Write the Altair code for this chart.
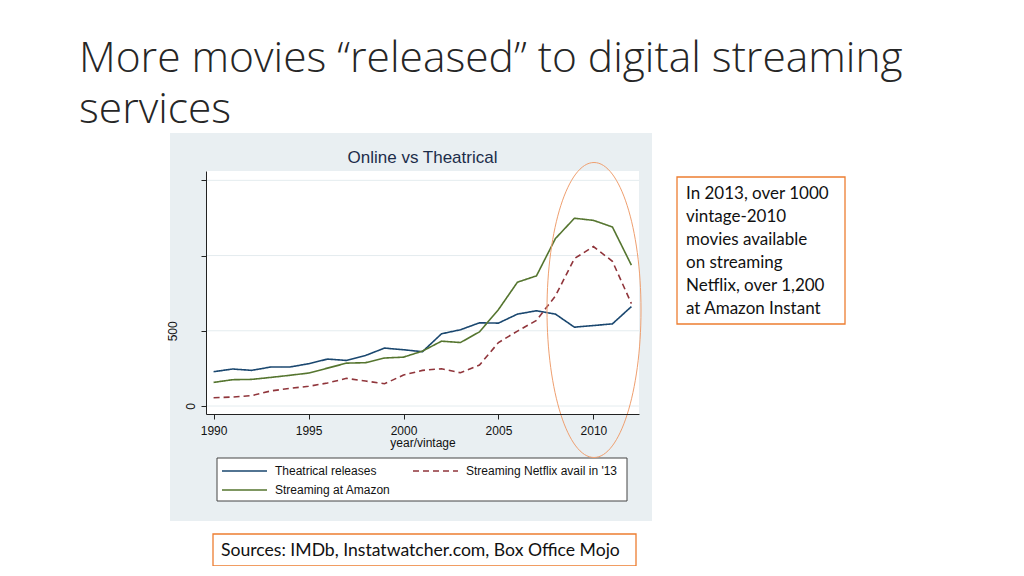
import altair as alt
import pandas as pd

# ---------------- data ----------------
years = list(range(1990, 2013))
theatrical = [228, 246, 237, 259, 259, 281, 312, 303, 336, 385, 374, 361,
              480, 507, 553, 551, 611, 633, 611, 524, 535, 546, 661]
netflix = [55, 60, 69, 100, 117, 131, 153, 184, 166, 148, 206, 237,
           248, 221, 272, 422, 498, 569, 732, 980, 1060, 962, 681]
amazon = [157, 175, 177, 190, 204, 219, 252, 285, 288, 319, 325, 365,
          431, 422, 493, 641, 823, 865, 1113, 1248, 1234, 1190, 936]

series_names = ["Theatrical releases", "Streaming Netflix avail in '13", "Streaming at Amazon"]
series_colors = ["#1a476f", "#90353b", "#55752f"]
series_dash = [[1, 0], [6, 4], [1, 0]]

y_ticks = [0, 500, 1000, 1500]
x_ticks = [1990, 1995, 2000, 2005, 2010]

slide_title = ["More movies \u201creleased\u201d to digital streaming", "services"]
chart_title = "Online vs Theatrical"
x_title = "year/vintage"
note_lines = ["In 2013, over 1000", "vintage-2010", "movies available",
              "on streaming", "Netflix, over 1,200", "at Amazon Instant"]
sources = "Sources: IMDb, Instatwatcher.com, Box Office Mojo"

rows = []
for name, vals in zip(series_names, [theatrical, netflix, amazon]):
    for yr, v in zip(years, vals):
        rows.append({"year": yr, "value": v, "series": name})
df = pd.DataFrame(rows)
grid_df = pd.DataFrame({"value": y_ticks})
one = pd.DataFrame({"k": [0]})

W, H = 433, 243
STATA_FONT = "Liberation Sans"
SLIDE_FONT = "Lato"

xscale = alt.Scale(domain=[1989.6, 2012.4], nice=False, zero=False)
yscale = alt.Scale(domain=[-53, 1562], nice=False, zero=False)

# ---------------- background panels ----------------
panel = alt.Chart(one).mark_rect(color="#e9eff2").encode(
    x=alt.value(-36), x2=alt.value(446), y=alt.value(-38), y2=alt.value(350))
plot_bg = alt.Chart(one).mark_rect(color="white").encode(
    x=alt.value(0), x2=alt.value(W), y=alt.value(0), y2=alt.value(H))

grid = alt.Chart(grid_df).mark_rule(color="#e4ecef", strokeWidth=1).encode(
    y=alt.Y("value:Q", scale=yscale))

lines = alt.Chart(df).mark_line(strokeWidth=1.6).encode(
    x=alt.X("year:Q", scale=xscale,
            axis=alt.Axis(values=x_ticks, format="d", title=x_title, grid=False,
                          tickSize=5, labelPadding=6, titlePadding=1, zindex=2)),
    y=alt.Y("value:Q", scale=yscale,
            axis=alt.Axis(values=y_ticks, title=None, grid=False, tickSize=5, zindex=2,
                          labelAngle=-90, labelAlign="center", labelBaseline="bottom",
                          labelExpr="datum.value <= 500 ? datum.label : ''",
                          labelPadding={"condition": {"test": "datum.value == 500", "value": 22},
                                        "value": 4})),
    color=alt.Color("series:N", scale=alt.Scale(domain=series_names, range=series_colors),
                    legend=None),
    strokeDash=alt.StrokeDash("series:N", scale=alt.Scale(domain=series_names, range=series_dash),
                              legend=None),
    detail="series:N",
)

title_mark = alt.Chart(one).mark_text(
    text=chart_title, font=STATA_FONT, fontSize=17, color="#1c2d4a",
    align="center", baseline="middle").encode(x=alt.value(W / 2), y=alt.value(-13))

# ---------------- legend (Stata style box) ----------------
legend_box = alt.Chart(one).mark_rect(fill="white", stroke="#444444", strokeWidth=1).encode(
    x=alt.value(11), x2=alt.value(421), y=alt.value(287), y2=alt.value(330))
leg_pos = [(16, 300), (207, 300), (16, 319)]
legend_layers = [legend_box]
for (lx, ly), name, col, dash in zip(leg_pos, series_names, series_colors, series_dash):
    legend_layers.append(
        alt.Chart(one).mark_rule(color=col, strokeWidth=1.5, strokeDash=dash).encode(
            x=alt.value(lx), x2=alt.value(lx + 45), y=alt.value(ly)))
    legend_layers.append(
        alt.Chart(one).mark_text(text=name, font=STATA_FONT, fontSize=12, color="#111111",
                                 align="left", baseline="middle").encode(
            x=alt.value(lx + 53), y=alt.value(ly)))

# ---------------- ellipse highlight ----------------
rx = 47 / 147.5
ell_path = f"M {-rx},0 A {rx} 1 0 1 0 {rx} 0 A {rx} 1 0 1 0 {-rx} 0 Z"
ellipse = alt.Chart(one).mark_point(
    shape=ell_path, size=295 * 295, filled=False, stroke="#ef9f6f", strokeWidth=1,
    opacity=1).encode(x=alt.value(388), y=alt.value(139))

# ---------------- slide texts ----------------
slide_title_mark = alt.Chart(one).mark_text(
    text=slide_title, font="Open Sans", fontWeight=300, fontSize=42.5, color="#262626",
    align="left", baseline="alphabetic", lineHeight=51).encode(
    x=alt.value(-127), y=alt.value(-99))

note_box = alt.Chart(one).mark_rect(fill="white", stroke="#ed7d31", strokeWidth=1.3).encode(
    x=alt.value(471), x2=alt.value(639), y=alt.value(6), y2=alt.value(153))
note_text = alt.Chart(one).mark_text(
    text=note_lines, font=SLIDE_FONT, fontSize=17, color="#111111",
    align="left", baseline="alphabetic", lineHeight=23).encode(
    x=alt.value(480), y=alt.value(28))

src_box = alt.Chart(one).mark_rect(fill="white", stroke="#ed7d31", strokeWidth=1.3).encode(
    x=alt.value(7), x2=alt.value(430), y=alt.value(363), y2=alt.value(395))
src_text = alt.Chart(one).mark_text(
    text=sources, font=SLIDE_FONT, fontSize=17.6, color="#111111",
    align="left", baseline="alphabetic").encode(x=alt.value(15), y=alt.value(385))

chart = alt.layer(
    panel, plot_bg, grid, lines, title_mark, *legend_layers, ellipse,
    slide_title_mark, note_box, note_text, src_box, src_text,
).properties(
    width=W, height=H,
    autosize=alt.AutoSizeParams(type="none"),
    padding={"left": 198, "top": 163, "right": 377, "bottom": 152},
    background="white",
).configure_view(stroke=None).configure_axis(
    domainColor="#222222", tickColor="#222222", domainWidth=1, tickWidth=1,
    labelFont=STATA_FONT, labelFontSize=12, labelColor="#111111",
    titleFont=STATA_FONT, titleFontSize=12, titleFontWeight="normal", titleColor="#111111",
)

chart.save("out.html", embed_options={"renderer": "svg", "actions": False})
